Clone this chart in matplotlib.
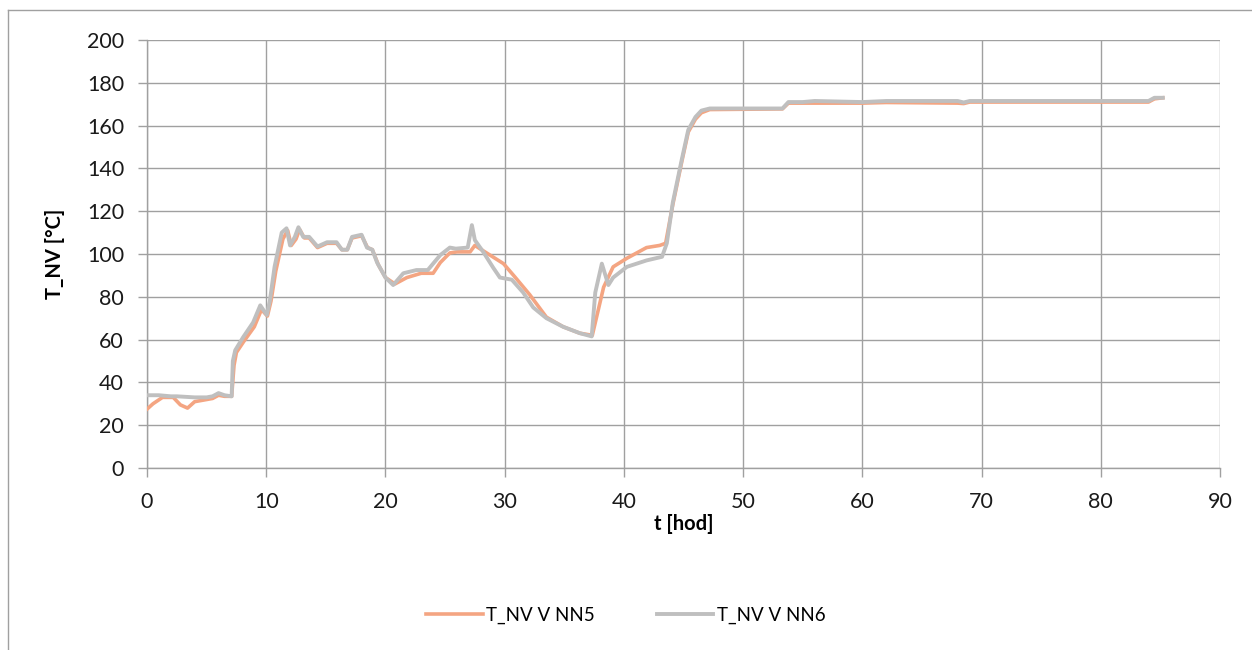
import matplotlib
matplotlib.use("Agg")
import matplotlib.pyplot as plt
from matplotlib.lines import Line2D

plt.rcParams['font.family'] = ['Lato', 'DejaVu Sans']

# T_NV V NN5 (orange)
t_nn5 = [0, 0.5, 1.3, 2.2, 2.8, 3.4, 4, 5, 5.5, 6, 6.5, 7.1, 7.3, 7.5, 8.1, 9.0, 9.6, 10.1,
         10.4, 10.8, 11.4, 11.8, 12.1, 12.5, 12.8, 13.2, 13.6, 14.3, 15.1, 15.9, 16.35, 16.8,
         17.2, 18.0, 18.5, 18.9, 19.4, 20.0, 20.8, 21.8, 23.0, 24.0, 24.6, 25.4, 26.0, 27.1,
         27.5, 28.2, 29.05, 29.9, 30.9, 32.1, 33.5, 34.9, 36.3, 37.35, 38.3, 39.1, 40.25, 41.9,
         43.0, 43.5, 44.1, 44.85, 45.4, 46.0, 46.5, 47.2, 53.3, 53.8, 56, 60, 62, 68, 68.5, 69,
         84, 84.5, 85.2]
v_nn5 = [27.5, 30, 33, 33, 29.5, 28, 31, 32, 32.5, 34, 33.5, 33.5, 48, 54, 59, 66, 74, 71,
         78, 92, 107, 111, 104, 107, 111.5, 107.5, 107.5, 103, 105, 105, 102, 102,
         107.5, 108.5, 103, 102, 95, 89, 86, 89, 91, 91, 96, 100.5, 101, 101,
         104, 101.5, 98.5, 95.5, 89, 81, 70.5, 66, 63, 62, 84.5, 94, 98, 103,
         104, 105, 123, 143, 157, 163, 166, 167.5, 167.8, 170.5, 170.5, 170.5, 170.8, 170.5, 170.3, 171,
         171, 172.5, 173]

# T_NV V NN6 (grey)
t_nn6 = [0, 1, 2, 2.5, 4, 5, 5.5, 6, 6.5, 7.1, 7.2, 7.4, 8.05, 8.9, 9.5, 10.05, 10.3, 10.7,
         11.3, 11.7, 12.0, 12.4, 12.7, 13.1, 13.6, 14.3, 15.1, 15.9, 16.35, 16.8, 17.2, 18.0,
         18.45, 18.9, 19.3, 20.0, 20.65, 21.5, 22.6, 23.55, 24.6, 25.4, 25.9, 26.9, 27.25, 27.5,
         28.2, 29.05, 29.6, 30.6, 31.55, 32.4, 33.5, 34.9, 36.3, 37.3, 37.6, 38.15, 38.7, 39.1,
         40.25, 41.9, 43.2, 43.6, 44.1, 44.85, 45.4, 46.0, 46.5, 47.2, 53.3, 53.8, 55, 56, 60,
         62, 68, 68.5, 69, 84, 84.5, 85.2]
v_nn6 = [34, 34, 33.5, 33.5, 33, 33, 33.5, 35, 34, 33.5, 50, 55, 61, 68, 76, 71.5, 78, 94,
         110, 112, 104, 108, 112.5, 108, 108, 103.5, 105.5, 105.5, 102, 102, 108, 109,
         103, 102, 96, 89, 85.5, 91, 92.5, 92.5, 99.5, 103, 102.5, 103, 113.5, 106.5,
         101, 93.5, 89, 88, 82, 75, 70, 66, 63, 61.5, 82, 95.5, 85.5, 89,
         94, 97, 98.7, 105, 124, 144, 158, 164, 167, 168, 168, 171, 171, 171.5, 171,
         171.5, 171.5, 170.8, 171.5, 171.5, 173, 173]

fig = plt.figure(figsize=(12.52, 6.5), dpi=100)
ax = fig.add_axes([147/1252, 1-468/650, (1220-147)/1252, (468-40)/650])

ax.plot(t_nn5, v_nn5, color='#F4A582', lw=2.6, label='T_NV V NN5', zorder=3)
ax.plot(t_nn6, v_nn6, color='#BFBFBF', lw=2.8, label='T_NV V NN6', zorder=4)

ax.set_xlim(0, 90)
ax.set_ylim(0, 200)
ax.set_xticks(range(0, 91, 10))
ax.set_yticks(range(0, 201, 20))
ax.grid(True, color='#A0A0A0', lw=1)
ax.set_axisbelow(True)
for s in ['top', 'right']:
    ax.spines[s].set_visible(False)
for s in ['left', 'bottom']:
    ax.spines[s].set_color('#A0A0A0')
    ax.spines[s].set_linewidth(1)
ax.tick_params(colors='#A0A0A0', labelcolor='#1a1a1a', labelsize=15.5, length=6.5, width=1)
ax.tick_params(axis='y', pad=10)
ax.tick_params(axis='x', pad=11)

ax.set_xlabel('t [hod]', fontsize=14.5, fontweight='bold', labelpad=1)
ax.set_ylabel('T_NV [°C]', fontsize=14.5, fontweight='bold', labelpad=16)

fig.legend(loc='center', bbox_to_anchor=(0.5, 1-615/650), ncol=2, frameon=False,
           fontsize=13.5, handlelength=3.0, columnspacing=3.3, handletextpad=0.2)

# outer chart border
fig.add_artist(Line2D([8/1252, 8/1252], [0, 1-10/650], color='#A0A0A0', lw=1))
fig.add_artist(Line2D([8/1252, 1], [1-10/650, 1-10/650], color='#A0A0A0', lw=1))

fig.savefig('out.png', dpi=100)
